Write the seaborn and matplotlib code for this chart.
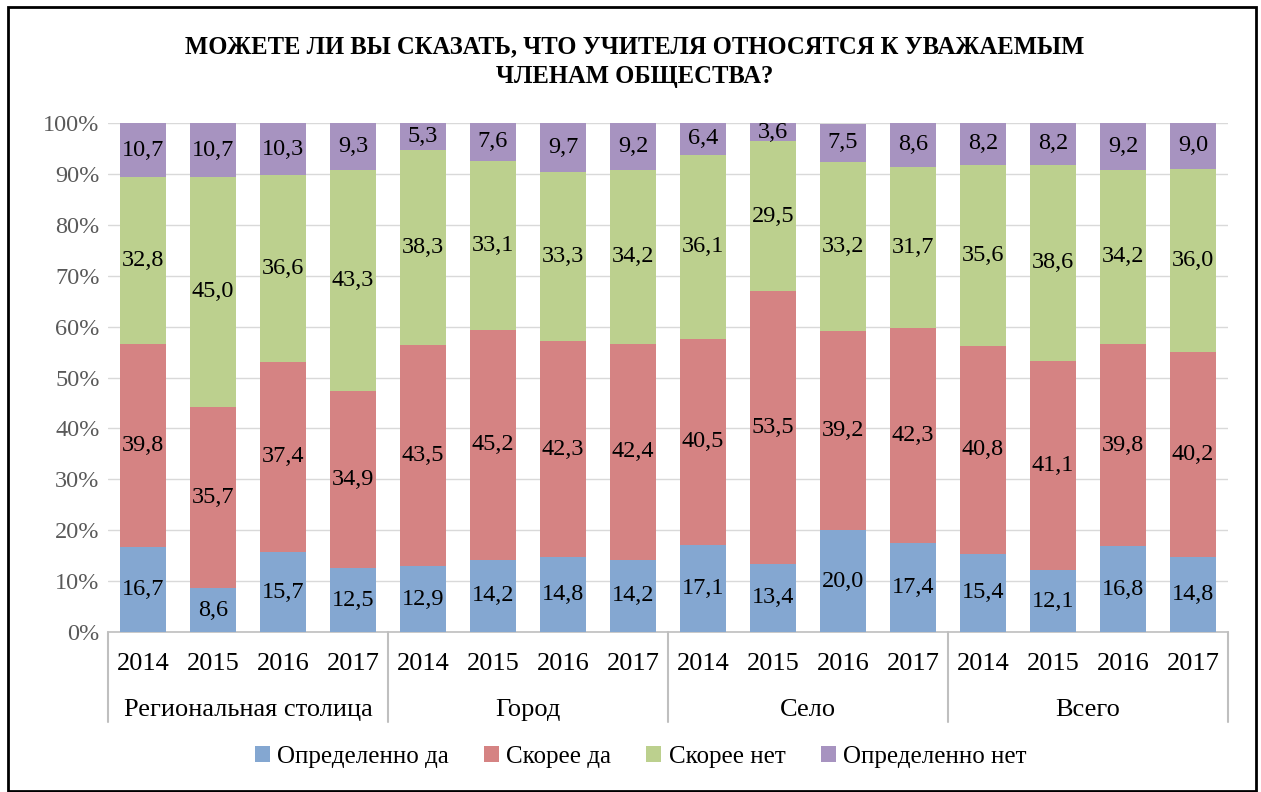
import numpy as np
import pandas as pd
import matplotlib
matplotlib.use("Agg")
import matplotlib.pyplot as plt
import seaborn as sns
from matplotlib.patches import Rectangle, Patch
from matplotlib.lines import Line2D

groups = ["Региональная столица", "Город", "Село", "Всего"]
years = ["2014", "2015", "2016", "2017"]
series = ["Определенно да", "Скорее да", "Скорее нет", "Определенно нет"]

def_yes = [16.7, 8.6, 15.7, 12.5, 12.9, 14.2, 14.8, 14.2, 17.1, 13.4, 20.0, 17.4, 15.4, 12.1, 16.8, 14.8]
rather_yes = [39.8, 35.7, 37.4, 34.9, 43.5, 45.2, 42.3, 42.4, 40.5, 53.5, 39.2, 42.3, 40.8, 41.1, 39.8, 40.2]
rather_no = [32.8, 45.0, 36.6, 43.3, 38.3, 33.1, 33.3, 34.2, 36.1, 29.5, 33.2, 31.7, 35.6, 38.6, 34.2, 36.0]
def_no = [10.7, 10.7, 10.3, 9.3, 5.3, 7.6, 9.7, 9.2, 6.4, 3.6, 7.5, 8.6, 8.2, 8.2, 9.2, 9.0]

colors = ["#84A7D1", "#D58383", "#BCD08E", "#A793C0"]

sns.set_theme(style="white")
plt.rcParams["font.family"] = ["Liberation Serif", "DejaVu Serif"]
plt.rcParams["text.color"] = "black"

fig = plt.figure(figsize=(12.61, 7.92), dpi=100)
ax = fig.add_axes([108/1261, 1-632/792, (1228-108)/1261, (632-123)/792])

keys = [f"{g}|{y}" for g in groups for y in years]
vals = [def_yes, rather_yes, rather_no, def_no]
bottom = np.zeros(len(keys))
for name, v, c in zip(series, vals, colors):
    df = pd.DataFrame({"key": keys, "val": v})
    sns.barplot(data=df, x="key", y="val", order=keys, color=c, width=0.66,
                bottom=bottom, ax=ax, saturation=1, zorder=3, linewidth=0)
    for i, (b, val) in enumerate(zip(bottom, v)):
        ax.text(i, b + val / 2, f"{val:.1f}".replace(".", ","), ha="center", va="center",
                fontsize=17.5, color="black", zorder=5)
    bottom = bottom + np.array(v)

ax.set_xlim(-0.5, len(keys) - 0.5)
ax.set_ylim(0, 100)
ax.set_yticks(np.arange(0, 101, 10))
ax.set_yticklabels([f"{t}%" for t in range(0, 101, 10)], fontsize=17.5, color="#595959")
ax.yaxis.grid(True, color="#D9D9D9", linewidth=1, zorder=0)
ax.set_axisbelow(True)
ax.set_xticks(range(len(keys)))
ax.set_xticklabels(years * 4, fontsize=19, color="black")
ax.tick_params(axis="x", length=0, pad=15)
ax.tick_params(axis="y", length=0, pad=6)
ax.set_xlabel("")
ax.set_ylabel("")
for s in ["top", "right", "left"]:
    ax.spines[s].set_visible(False)
ax.spines["bottom"].set_color("#BFBFBF")
ax.spines["bottom"].set_linewidth(1.2)

# group separators and group labels
for k in range(len(groups) + 1):
    x = k * 4 - 0.5
    xf = ax.transData.transform((x, 0))[0]
    xfig = fig.transFigure.inverted().transform((xf, 0))[0]
    fig.add_artist(Line2D([xfig, xfig], [1-632/792, 1-722/792], color="#BFBFBF", linewidth=1.5))
for k, g in enumerate(groups):
    ax.text(k * 4 + 1.5, -0.154, g, transform=ax.get_xaxis_transform(), ha="center", va="center",
            fontsize=19, color="black")

fig.text(0.503, 1-47/792, "МОЖЕТЕ ЛИ ВЫ СКАЗАТЬ, ЧТО УЧИТЕЛЯ ОТНОСЯТСЯ К УВАЖАЕМЫМ",
         ha="center", va="center", fontsize=17.7, fontweight="bold", color="black")
fig.text(0.503, 1-77/792, "ЧЛЕНАМ ОБЩЕСТВА?", ha="center", va="center", fontsize=17.7,
         fontweight="bold", color="black")

handles = [Patch(facecolor=c, edgecolor="none") for c in colors]
fig.legend(handles, series, loc="center", bbox_to_anchor=(0.508, 1-757/792), ncol=4, frameon=False,
           fontsize=18, handlelength=0.6, handleheight=0.6, handletextpad=0.3, columnspacing=1.4,
           labelcolor="black")

fig.add_artist(Rectangle((8/1261, 1-791/792), (1256-8)/1261, (791-7)/792, transform=fig.transFigure,
                         fill=False, edgecolor="black", linewidth=2))

fig.savefig("out.png", dpi=100)
